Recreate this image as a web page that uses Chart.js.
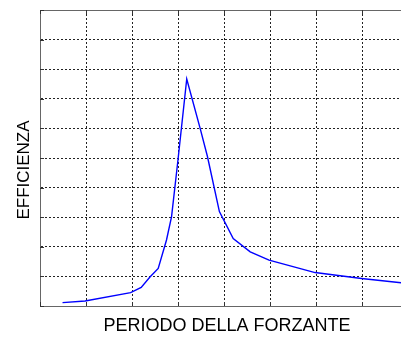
<!DOCTYPE html>
<html>
<head>
<meta charset="utf-8">
<script src="https://cdn.jsdelivr.net/npm/chart.js@4"></script>
<style>
  html, body { margin: 0; padding: 0; background: #fff; overflow: hidden; }
  canvas { display: block; }
</style>
</head>
<body>
<canvas id="effChart" width="410" height="337"></canvas>
<script>
// period of the forcing vs efficiency
const periodi = [0.49, 0.98, 1.97, 2.2, 2.39, 2.57, 2.75, 2.86, 3.0, 3.19, 3.48, 3.64, 3.9, 4.2, 4.57, 4.98, 5.98, 6.99, 8.0];
const efficienza = [0.115, 0.17, 0.45, 0.63, 0.98, 1.27, 2.23, 3.02, 4.94, 7.67, 6.01, 5.05, 3.19, 2.28, 1.83, 1.55, 1.13, 0.93, 0.76];
const xLabel = 'PERIODO DELLA FORZANTE';
const yLabel = 'EFFICIENZA';

const FONT = '"Liberation Sans", Arial, sans-serif';

// frame on top + inward tick marks + axis labels, matlab style
const framePlugin = {
    id: 'frame',
    afterDraw(chart) {
        const { ctx, chartArea: a, scales } = chart;
        ctx.save();
        ctx.strokeStyle = '#666';
        ctx.lineWidth = 1;
        ctx.beginPath();
        ctx.moveTo(a.left, a.top + 0.5);
        ctx.lineTo(a.right, a.top + 0.5);
        ctx.stroke();

        ctx.strokeStyle = '#333';
        ctx.beginPath();
        scales.x.ticks.forEach(t => {
            const px = Math.round(scales.x.getPixelForValue(t.value)) + 0.5;
            ctx.moveTo(px, a.bottom); ctx.lineTo(px, a.bottom - 4);
            ctx.moveTo(px, a.top); ctx.lineTo(px, a.top + 4);
        });
        scales.y.ticks.forEach(t => {
            const py = Math.round(scales.y.getPixelForValue(t.value)) + 0.5;
            ctx.moveTo(a.left, py); ctx.lineTo(a.left + 4, py);
        });
        ctx.stroke();

        ctx.fillStyle = '#000';
        ctx.font = '18px ' + FONT;
        ctx.textAlign = 'center';
        ctx.textBaseline = 'middle';
        ctx.fillText(xLabel, 227, 326);
        ctx.translate(24, 170);
        ctx.rotate(-Math.PI / 2);
        ctx.font = '17px ' + FONT;
        ctx.fillText(yLabel, 0, 0);
        ctx.restore();
    }
};

const gridStyle = {
    color: '#222',
    lineWidth: 1,
    drawTicks: false
};

new Chart(document.getElementById('effChart'), {
    type: 'line',
    data: {
        datasets: [{
            data: periodi.map((p, i) => ({ x: p, y: efficienza[i] })),
            borderColor: '#0000ff',
            borderWidth: 1.4,
            pointRadius: 0,
            tension: 0,
            fill: false
        }]
    },
    options: {
        responsive: false,
        animation: false,
        layout: { padding: { left: 40, top: 10, right: 2, bottom: 31 } },
        scales: {
            x: {
                type: 'linear',
                min: 0, max: 8,
                ticks: { display: false, stepSize: 1 },
                grid: gridStyle,
                border: { display: true, color: '#666', width: 1, dash: [2, 2] }
            },
            y: {
                min: 0, max: 10,
                ticks: { display: false, stepSize: 1 },
                grid: gridStyle,
                border: { display: true, color: '#666', width: 1, dash: [2, 2] }
            }
        },
        plugins: {
            legend: { display: false },
            tooltip: { enabled: false }
        }
    },
    plugins: [framePlugin]
});
</script>
</body>
</html>
